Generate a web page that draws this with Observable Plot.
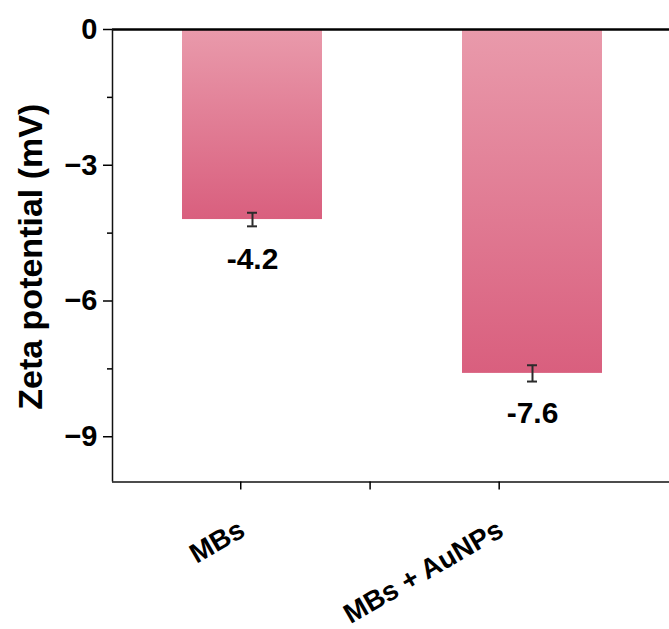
<!DOCTYPE html>
<html>
<head>
<meta charset="utf-8">
<script src="https://cdn.jsdelivr.net/npm/d3@7"></script>
<script src="https://cdn.jsdelivr.net/npm/@observablehq/plot@0.6"></script>
<style>
  html, body { margin: 0; padding: 0; background: #fff; }
  #chart svg { display: block; }
</style>
</head>
<body>
<div id="chart"></div>
<script>
// ---- data ----
const categories = ["MBs", "MBs + AuNPs"];
const barPos = [1, 2];
const zeta = [-4.2, -7.6];
const zetaErr = [0.15, 0.18];
const valueLabels = ["-4.2", "-7.6"];
const yTicks = [0, -3, -6, -9];
const yMinorTicks = [-1.5, -4.5, -7.5];
const xTicks = [0.958, 1.42, 1.881];
const catTickIndex = [0, 2];
const yTitle = "Zeta potential (mV)";

// ---- layout ----
const W = 669, H = 629;
const mL = 112, mR = 0, mT = 29, mB = 147.5;
const pxPerUnit = 280;
const xDomain = [0.5, 0.5 + (W - mL - mR) / pxPerUnit];
const yDomain = [-10, 0];
const barHalf = 0.25;
const capHalf = 5 / pxPerUnit;
const font = "'Liberation Sans', Arial, Helvetica, sans-serif";
const fmtTick = d => d < 0 ? "\u2212" + Math.abs(d) : String(d);

const rows = categories.map((c, i) => ({
  cat: c, x: barPos[i], v: zeta[i], e: zetaErr[i], label: valueLabels[i],
  tick: xTicks[catTickIndex[i]]
}));

const gradientDefs = () => {
  const defs = d3.create("svg:defs");
  const g = defs.append("linearGradient").attr("id", "barGrad")
    .attr("x1", 0).attr("y1", 0).attr("x2", 0).attr("y2", 1);
  g.append("stop").attr("offset", "0").attr("stop-color", "#e99aab");
  g.append("stop").attr("offset", "1").attr("stop-color", "#d95f7e");
  return defs.node();
};

const chart = Plot.plot({
  width: W, height: H,
  marginLeft: mL, marginRight: mR, marginTop: mT, marginBottom: mB,
  style: { fontFamily: font, fontWeight: "bold", color: "#000", background: "#fff", overflow: "visible" },
  x: { type: "linear", domain: xDomain, axis: null },
  y: { domain: yDomain, axis: null },
  marks: [
    gradientDefs,
    Plot.rect(rows, { x1: d => d.x - barHalf, x2: d => d.x + barHalf, y1: 0, y2: "v", fill: "url(#barGrad)" }),
    // error bars
    Plot.ruleX(rows, { x: "x", y1: d => d.v - d.e, y2: d => d.v + d.e, stroke: "#2b2b2b", strokeWidth: 2 }),
    Plot.ruleY(rows, { y: d => d.v - d.e, x1: d => d.x - capHalf, x2: d => d.x + capHalf, stroke: "#2b2b2b", strokeWidth: 2 }),
    Plot.ruleY(rows, { y: d => d.v + d.e, x1: d => d.x - capHalf, x2: d => d.x + capHalf, stroke: "#2b2b2b", strokeWidth: 2 }),
    // value labels
    Plot.text(rows, { x: "x", y: "v", text: "label", dy: 49.5, lineAnchor: "bottom", fontSize: 30, fontWeight: "bold", fill: "#000" }),
    // frame lines
    Plot.ruleY([yDomain[1]], { stroke: "#000", strokeWidth: 2.5 }),
    Plot.ruleY([yDomain[0]], { stroke: "#111", strokeWidth: 1.5 }),
    Plot.ruleX([xDomain[0]], { y1: yDomain[0], y2: yDomain[1], stroke: "#111", strokeWidth: 1.5 }),
    // y axis ticks and labels
    Plot.axisY(yTicks, { tickSize: 9, tickFormat: () => "", label: null, strokeWidth: 1.5 }),
    Plot.axisY(yMinorTicks, { tickSize: 5, tickFormat: () => "", label: null, strokeWidth: 1.5 }),
    Plot.text(yTicks, { x: xDomain[0], y: d => d, text: fmtTick, textAnchor: "end", dx: -15, fontSize: 29, fontWeight: "bold", fill: "#000" }),
    // x axis ticks
    Plot.axisX(xTicks, { anchor: "bottom", tickSize: 8, tickFormat: () => "", label: null, strokeWidth: 1.5 }),
    // category labels
    Plot.text(rows, { x: "tick", frameAnchor: "bottom", text: "cat", rotate: -30, textAnchor: "end", lineAnchor: "bottom", dx: 6, dy: 53, fontSize: 27.5, fontWeight: "bold", fill: "#000" }),
    // y title
    Plot.text([yTitle], { frameAnchor: "left", rotate: -90, textAnchor: "middle", lineAnchor: "bottom", dx: -71, dy: 1, fontSize: 34, fontWeight: "bold", fill: "#000" })
  ]
});

document.getElementById("chart").appendChild(chart);
</script>
</body>
</html>
